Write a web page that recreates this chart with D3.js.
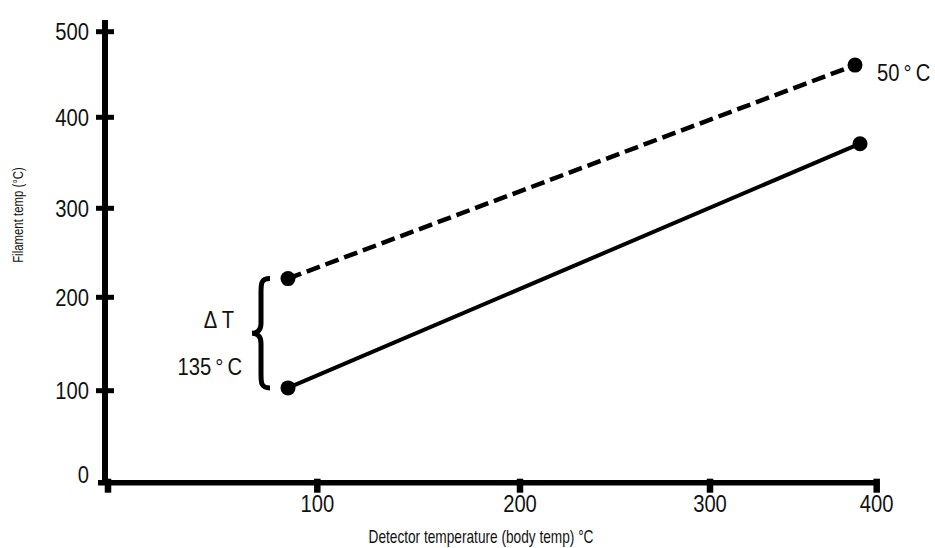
<!DOCTYPE html>
<html>
<head>
<meta charset="utf-8">
<script src="https://cdn.jsdelivr.net/npm/d3@7"></script>
<style>
  html, body { margin: 0; padding: 0; background: #fff; }
  svg { display: block; }
  text { font-family: "Liberation Sans", Arial, sans-serif; fill: #111; }
</style>
</head>
<body>
<svg id="chart" width="935" height="548"></svg>
<script>
// ---- data ----
const xTicks = [0, 100, 200, 300, 400];
const xTickLabels = ["", "100", "200", "300", "400"];
const yTicks = [0, 100, 200, 300, 400, 500];
const yTickLabels = ["0", "100", "200", "300", "400", "500"];
const solidSeries = [{x: 86, y: 103}, {x: 390, y: 371}];
const dashedSeries = [{x: 86, y: 221}, {x: 387, y: 461}];
const xTitle = "Detector temperature (body temp) °C";
const yTitle = "Filament temp (°C)";
const deltaLabel = "\u0394 T";
const deltaValue = "135\u2009°\u2009C";
const rightLabel = "50\u2009°\u2009C";

const svg = d3.select("#chart");

// condensed text helper (reference uses a condensed face)
function ctext(parent, px, py, str, size, anchor, sx, rot) {
  return parent.append("text")
    .attr("transform", `translate(${px},${py})` + (rot ? ` rotate(${rot})` : "") + ` scale(${sx},1)`)
    .attr("text-anchor", anchor).attr("font-size", size).text(str);
}

// hand-drawn axes in the reference have slightly uneven tick spacing
const x = d3.scaleLinear().domain(xTicks).range([108, 317.3, 520, 710, 876.7]);
const y = d3.scaleLinear().domain(yTicks).range([482.7, 390.7, 297.3, 208.3, 117.3, 31.7]);

const axisX = 105;   // y-axis line position
const baseY = y(0);

// y axis line
svg.append("line").attr("x1", axisX).attr("x2", axisX).attr("y1", 20).attr("y2", baseY + 2)
  .attr("stroke", "#000").attr("stroke-width", 6);
// x axis line
svg.append("line").attr("x1", 98).attr("x2", x(400) + 2).attr("y1", baseY).attr("y2", baseY)
  .attr("stroke", "#000").attr("stroke-width", 5.5);

// y ticks
const yt = svg.append("g");
yt.selectAll("line").data(yTicks.filter(d => d > 0)).join("line")
  .attr("x1", axisX - 9).attr("x2", axisX + 9)
  .attr("y1", d => y(d)).attr("y2", d => y(d))
  .attr("stroke", "#000").attr("stroke-width", 5);
yTicks.forEach((d, i) => {
  ctext(yt, 89, y(d) + (d === 0 ? -8 : 0) + 8.5, yTickLabels[i], 23.5, "end", 0.86);
});

// x ticks
const xt = svg.append("g");
xt.selectAll("line").data(xTicks).join("line")
  .attr("x1", d => x(d)).attr("x2", d => x(d))
  .attr("y1", baseY - 4).attr("y2", baseY + 10)
  .attr("stroke", "#000").attr("stroke-width", 6.5);
xTicks.forEach((d, i) => {
  ctext(xt, x(d), 512, xTickLabels[i], 23.5, "middle", 0.86);
});

// axis titles
ctext(svg, 481, 543, xTitle, 18, "middle", 0.76);
ctext(svg, 23, 215, yTitle, 15, "middle", 0.76, -90);

// lines
const line = d3.line().x(d => x(d.x)).y(d => y(d.y));
svg.append("path").datum(solidSeries).attr("d", line)
  .attr("fill", "none").attr("stroke", "#000").attr("stroke-width", 4);
svg.append("path").datum(dashedSeries).attr("d", line)
  .attr("fill", "none").attr("stroke", "#000").attr("stroke-width", 4.5)
  .attr("stroke-dasharray", "14,6");

// dots
svg.append("g").selectAll("circle").data(solidSeries.concat(dashedSeries)).join("circle")
  .attr("cx", d => x(d.x)).attr("cy", d => y(d.y)).attr("r", 7.5).attr("fill", "#000");

// brace
const braceTop = y(dashedSeries[0].y), braceBot = y(solidSeries[0].y);
const mid = (braceTop + braceBot) / 2, bx = 261;
svg.append("path")
  .attr("d", `M${bx + 9},${braceTop} C${bx},${braceTop} ${bx},${braceTop + 5} ${bx},${braceTop + 14} L${bx},${mid - 10}
              C${bx},${mid - 3} ${bx - 4},${mid} ${bx - 9},${mid}
              C${bx - 4},${mid} ${bx},${mid + 3} ${bx},${mid + 10} L${bx},${braceBot - 14}
              C${bx},${braceBot - 5} ${bx},${braceBot} ${bx + 9},${braceBot}`)
  .attr("fill", "none").attr("stroke", "#000").attr("stroke-width", 5);

// annotations
ctext(svg, 234, mid - 14 + 8.5, deltaLabel, 23.5, "end", 0.86);
ctext(svg, 242, mid + 33 + 8.5, deltaValue, 23.5, "end", 0.86);
ctext(svg, 877, y(dashedSeries[1].y) + 7 + 8.5, rightLabel, 23.5, "start", 0.86);
</script>
</body>
</html>
